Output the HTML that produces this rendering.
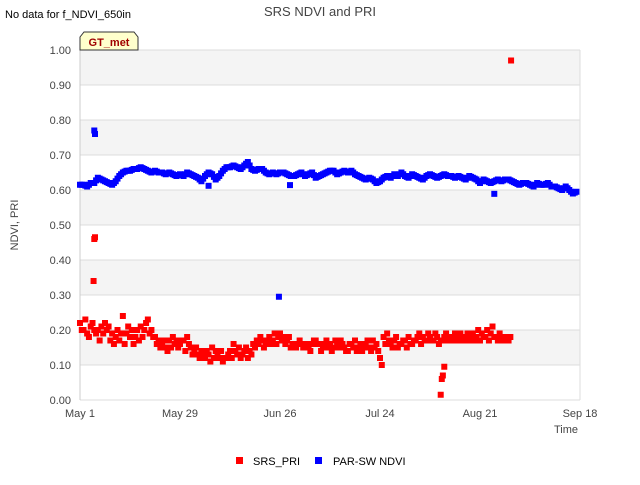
<!DOCTYPE html>
<html><head><meta charset="utf-8"><style>
body{margin:0;background:#fff;font-family:"Liberation Sans",sans-serif}
</style></head><body>
<svg id="chart" width="640" height="480" xmlns="http://www.w3.org/2000/svg" font-family="Liberation Sans, sans-serif">
<text x="5" y="18" font-size="11" fill="#000">No data for f_NDVI_650in</text>
<text x="320" y="16" font-size="13" fill="#444" text-anchor="middle">SRS NDVI and PRI</text>
<g id="plot"></g>
<g>
<path d="M80,50 L80,37 L84,32 L134,32 L138,37 L138,50 Z" fill="#ffffcc" stroke="#333" stroke-width="1"/>
<text x="109" y="46" font-size="11" font-weight="bold" fill="#a00000" text-anchor="middle">GT_met</text>
</g>
<text transform="translate(18,225) rotate(-90)" font-size="11" fill="#444" text-anchor="middle">NDVI, PRI</text>
<text x="578" y="433" font-size="11" fill="#444" text-anchor="end">Time</text>
<g><rect x="236" y="457" width="7" height="7" fill="#ff0000"/><text x="253" y="465" font-size="11" fill="#000">SRS_PRI</text></g>
<g><rect x="315" y="457" width="7" height="7" fill="#0000ff"/><text x="333" y="465" font-size="11" fill="#000">PAR-SW NDVI</text></g>
</svg>
<script>
const yTicks=[0,0.1,0.2,0.3,0.4,0.5,0.6,0.7,0.8,0.9,1.0];
const xTickDays=[0,28,56,84,112,140];
const xTickLabels=["May 1","May 29","Jun 26","Jul 24","Aug 21","Sep 18"];
const ndviValues=[0.615,0.615,0.61,0.62,0.62,0.635,0.63,0.625,0.62,0.615,0.625,0.64,0.65,0.655,0.655,0.66,0.66,0.665,0.66,0.655,0.65,0.655,0.65,0.65,0.645,0.65,0.645,0.64,0.645,0.64,0.65,0.645,0.64,0.635,0.625,0.64,0.65,0.645,0.63,0.64,0.655,0.665,0.665,0.67,0.665,0.66,0.67,0.68,0.66,0.655,0.66,0.66,0.65,0.645,0.65,0.645,0.65,0.65,0.645,0.64,0.64,0.645,0.65,0.64,0.645,0.65,0.635,0.64,0.645,0.65,0.655,0.655,0.645,0.65,0.655,0.65,0.655,0.645,0.64,0.635,0.63,0.635,0.63,0.62,0.625,0.635,0.64,0.635,0.645,0.64,0.65,0.64,0.635,0.645,0.64,0.635,0.63,0.64,0.645,0.64,0.635,0.64,0.645,0.64,0.64,0.635,0.64,0.635,0.63,0.64,0.635,0.63,0.62,0.63,0.625,0.62,0.625,0.63,0.625,0.63,0.63,0.625,0.62,0.615,0.62,0.62,0.615,0.61,0.62,0.615,0.615,0.62,0.61,0.61,0.605,0.6,0.61,0.6,0.59,0.595];
const ndviOutlierDays=[4,4.2,36,58.8,55.7,116];
const ndviOutlierValues=[0.77,0.76,0.612,0.614,0.295,0.589];
const priValues=[0.22,0.2,0.19,0.21,0.2,0.2,0.21,0.22,0.21,0.19,0.18,0.17,0.24,0.19,0.18,0.16,0.2,0.21,0.2,0.23,0.2,0.18,0.17,0.16,0.15,0.17,0.18,0.17,0.16,0.17,0.18,0.15,0.14,0.13,0.14,0.12,0.13,0.15,0.14,0.12,0.11,0.12,0.14,0.16,0.13,0.12,0.14,0.12,0.13,0.15,0.16,0.17,0.16,0.18,0.17,0.16,0.19,0.18,0.17,0.15,0.16,0.16,0.16,0.15,0.15,0.16,0.17,0.16,0.15,0.17,0.16,0.15,0.16,0.17,0.15,0.14,0.16,0.17,0.15,0.14,0.16,0.15,0.17,0.16,0.12,0.18,0.19,0.16,0.17,0.15,0.16,0.17,0.18,0.16,0.17,0.19,0.18,0.17,0.18,0.17,0.18,0.17,0.18,0.17,0.18,0.19,0.17,0.18,0.18,0.17,0.19,0.18,0.17,0.18,0.2,0.19,0.18,0.17,0.18,0.17,0.17];
const priAltValues=[0.2,0.23,0.18,0.22,0.19,0.17,0.19,0.2,0.17,0.16,0.2,0.19,0.16,0.21,0.2,0.18,0.17,0.18,0.22,0.19,0.18,0.16,0.15,0.17,0.14,0.15,0.16,0.15,0.17,0.14,0.16,0.13,0.15,0.12,0.13,0.14,0.11,0.12,0.13,0.14,0.12,0.13,0.12,0.14,0.15,0.13,0.15,0.14,0.16,0.17,0.18,0.15,0.17,0.16,0.19,0.18,0.17,0.16,0.18,0.16,0.15,0.17,0.15,0.16,0.14,0.17,0.16,0.14,0.16,0.15,0.14,0.17,0.15,0.16,0.14,0.16,0.15,0.14,0.16,0.15,0.17,0.14,0.15,0.14,0.1,0.16,0.17,0.15,0.18,0.16,0.17,0.15,0.16,0.17,0.18,0.16,0.17,0.19,0.17,0.19,0.16,0.17,0.19,0.18,0.17,0.18,0.19,0.17,0.19,0.18,0.17,0.2,0.19,0.18,0.17,0.21,0.18,0.19,0.17,0.18,0.18];
const priOutlierDays=[4,4.2,3.8,101,101.3,101.6,102,120.7];
const priOutlierValues=[0.46,0.465,0.34,0.015,0.06,0.07,0.095,0.97];
const X0=80,X1=580,Y0=400,Y1=50,DAYS=140;
function xs(d){return X0+(X1-X0)*d/DAYS;}
function ys(v){return Y0-(Y0-Y1)*v;}
const NS="http://www.w3.org/2000/svg";
const plot=document.getElementById('plot');
function mk(tag,attrs){const e=document.createElementNS(NS,tag);for(const k in attrs)e.setAttribute(k,attrs[k]);plot.appendChild(e);return e;}
for(let i=0;i<yTicks.length-1;i++){
  const b=mk('rect',{x:X0,y:ys(yTicks[i+1]),width:X1-X0,height:ys(yTicks[i])-ys(yTicks[i+1]),fill:(i%2==1)?'#f4f4f4':'#ffffff'});
  
  
}
yTicks.forEach(t=>{
  const l=mk('line',{x1:X0,x2:X1,y1:ys(t),y2:ys(t),stroke:'#dddddd','stroke-width':1});
  
  
  const tx=mk('text',{x:X0-9,y:ys(t)+4,'font-size':11,fill:'#444','text-anchor':'end'});
  tx.textContent=t.toFixed(2);
  
  
});
const ax=mk('line',{x1:X0,x2:X0,y1:Y1,y2:Y0,stroke:'#cccccc'});


const ax2=mk('line',{x1:X1,x2:X1,y1:Y1,y2:Y0,stroke:'#dddddd'});


xTickDays.forEach((d,i)=>{
  const tx=mk('text',{x:xs(d),y:Y0+17,'font-size':11,fill:'#444','text-anchor':'middle'});
  tx.textContent=xTickLabels[i];
  
  
});
function pt(d,v,c){
  const r=mk('rect',{x:xs(d)-3,y:ys(v)-3,width:6,height:6,fill:c});
  
  
}
priValues.forEach((v,i)=>pt(i,v,'#ff0000'));
priAltValues.forEach((v,i)=>pt(i+0.5,v,'#ff0000'));
priOutlierDays.forEach((d,i)=>pt(d,priOutlierValues[i],'#ff0000'));
ndviValues.forEach((v,i)=>pt(i,v,'#0000ff'));
ndviValues.forEach((v,i)=>{if(i<ndviValues.length-1)pt(i+0.5,(v+ndviValues[i+1])/2,'#0000ff');});
ndviOutlierDays.forEach((d,i)=>pt(d,ndviOutlierValues[i],'#0000ff'));
</script>
</body></html>
